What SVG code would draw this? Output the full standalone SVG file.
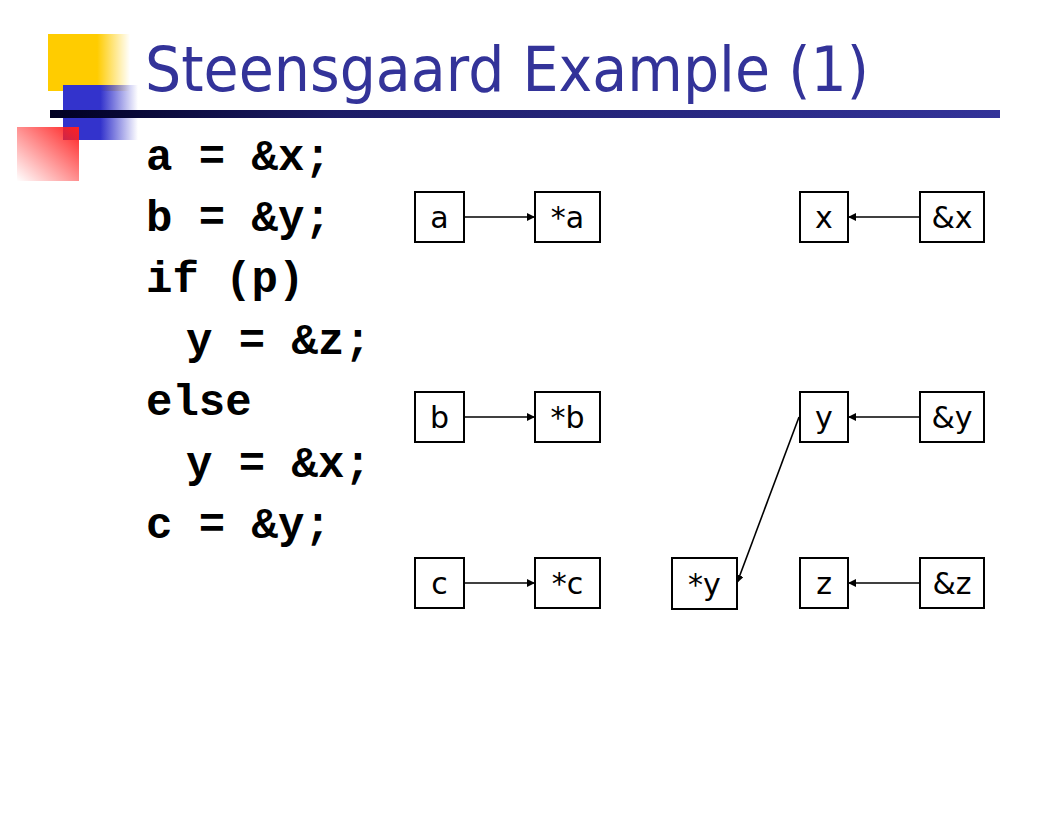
<svg xmlns="http://www.w3.org/2000/svg" width="1056" height="816" viewBox="0 0 1056 816">
<defs>
  <linearGradient id="gY" x1="0" y1="0" x2="1" y2="0">
    <stop offset="0" stop-color="#ffcc00"/>
    <stop offset="0.6" stop-color="#ffcc00"/>
    <stop offset="1" stop-color="#ffcc00" stop-opacity="0"/>
  </linearGradient>
  <linearGradient id="gB" x1="0" y1="0" x2="1" y2="0">
    <stop offset="0" stop-color="#3333cc"/>
    <stop offset="0.5" stop-color="#3333cc"/>
    <stop offset="1" stop-color="#3333cc" stop-opacity="0"/>
  </linearGradient>
  <linearGradient id="gR" x1="1" y1="0" x2="0" y2="1">
    <stop offset="0" stop-color="#ff2020"/>
    <stop offset="1" stop-color="#ff2020" stop-opacity="0"/>
  </linearGradient>
  <linearGradient id="gBar" x1="50" y1="0" x2="1000" y2="0" gradientUnits="userSpaceOnUse">
    <stop offset="0" stop-color="#000022"/>
    <stop offset="0.3" stop-color="#1c1c66"/>
    <stop offset="1" stop-color="#333399"/>
  </linearGradient>
  <marker id="ah" viewBox="0 0 10 10" refX="10" refY="5" markerWidth="8" markerHeight="8" markerUnits="userSpaceOnUse" orient="auto">
    <path d="M0,0 L10,5 L0,10 z" fill="#000"/>
  </marker>
  <style>
    .box{fill:#fff;stroke:#000;stroke-width:2}
    .lbl{font-family:"DejaVu Sans","Liberation Sans",sans-serif;font-size:30px;fill:#000;text-anchor:middle}
    .code{font-family:"Liberation Mono","Courier New",monospace;font-weight:bold;font-size:44px;fill:#000}
    .edge{stroke:#000;stroke-width:1.6;fill:none;marker-end:url(#ah)}
  </style>
</defs>
<rect width="1056" height="816" fill="#fff"/>
<g id="logo">
  <rect x="48" y="34" width="82" height="57" fill="url(#gY)"/>
  <rect x="63" y="85" width="75" height="55" fill="url(#gB)"/>
  <rect x="17" y="127" width="62" height="54" fill="url(#gR)"/>
  <rect x="50" y="110" width="950" height="8" fill="url(#gBar)"/>
</g>
<g id="title">
  <text x="145" y="91" font-family="DejaVu Sans,Liberation Sans,sans-serif" font-size="62" fill="#333399" textLength="724" lengthAdjust="spacingAndGlyphs">Steensgaard Example (1)</text>
</g>
<g id="code">
  <text class="code" x="146" y="170" xml:space="preserve">a = &amp;x;</text>
  <text class="code" x="146" y="231" xml:space="preserve">b = &amp;y;</text>
  <text class="code" x="146" y="292" xml:space="preserve">if (p)</text>
  <text class="code" x="186" y="354" xml:space="preserve">y = &amp;z;</text>
  <text class="code" x="146" y="415" xml:space="preserve">else</text>
  <text class="code" x="186" y="477" xml:space="preserve">y = &amp;x;</text>
  <text class="code" x="146" y="538" xml:space="preserve">c = &amp;y;</text>
</g>
<g id="connectors">
  <line class="edge" x1="464" y1="217" x2="535" y2="217"/>
  <line class="edge" x1="464" y1="417" x2="535" y2="417"/>
  <line class="edge" x1="464" y1="583" x2="535" y2="583"/>
  <line class="edge" x1="920" y1="217" x2="848" y2="217"/>
  <line class="edge" x1="920" y1="417" x2="848" y2="417"/>
  <line class="edge" x1="920" y1="583" x2="848" y2="583"/>
  <line class="edge" x1="799" y1="417" x2="737" y2="583"/>
</g>
<g id="node-a"><rect class="box" x="415" y="192" width="49" height="50"/><text class="lbl" x="439.5" y="228">a</text></g>
<g id="node-star-a"><rect class="box" x="535" y="192" width="65" height="50"/><text class="lbl" x="567.5" y="228">*a</text></g>
<g id="node-x"><rect class="box" x="800" y="192" width="48" height="50"/><text class="lbl" x="824" y="228">x</text></g>
<g id="node-amp-x"><rect class="box" x="920" y="192" width="64" height="50"/><text class="lbl" x="952" y="228">&amp;x</text></g>
<g id="node-b"><rect class="box" x="415" y="392" width="49" height="50"/><text class="lbl" x="439.5" y="428">b</text></g>
<g id="node-star-b"><rect class="box" x="535" y="392" width="65" height="50"/><text class="lbl" x="567.5" y="428">*b</text></g>
<g id="node-y"><rect class="box" x="800" y="392" width="48" height="50"/><text class="lbl" x="824" y="428">y</text></g>
<g id="node-amp-y"><rect class="box" x="920" y="392" width="64" height="50"/><text class="lbl" x="952" y="428">&amp;y</text></g>
<g id="node-c"><rect class="box" x="415" y="558" width="49" height="50"/><text class="lbl" x="439.5" y="594">c</text></g>
<g id="node-star-c"><rect class="box" x="535" y="558" width="65" height="50"/><text class="lbl" x="567.5" y="594">*c</text></g>
<g id="node-star-y"><rect class="box" x="672" y="558" width="65" height="51"/><text class="lbl" x="704.5" y="595">*y</text></g>
<g id="node-z"><rect class="box" x="800" y="558" width="48" height="50"/><text class="lbl" x="824" y="594">z</text></g>
<g id="node-amp-z"><rect class="box" x="920" y="558" width="64" height="50"/><text class="lbl" x="952" y="594">&amp;z</text></g>
</svg>
